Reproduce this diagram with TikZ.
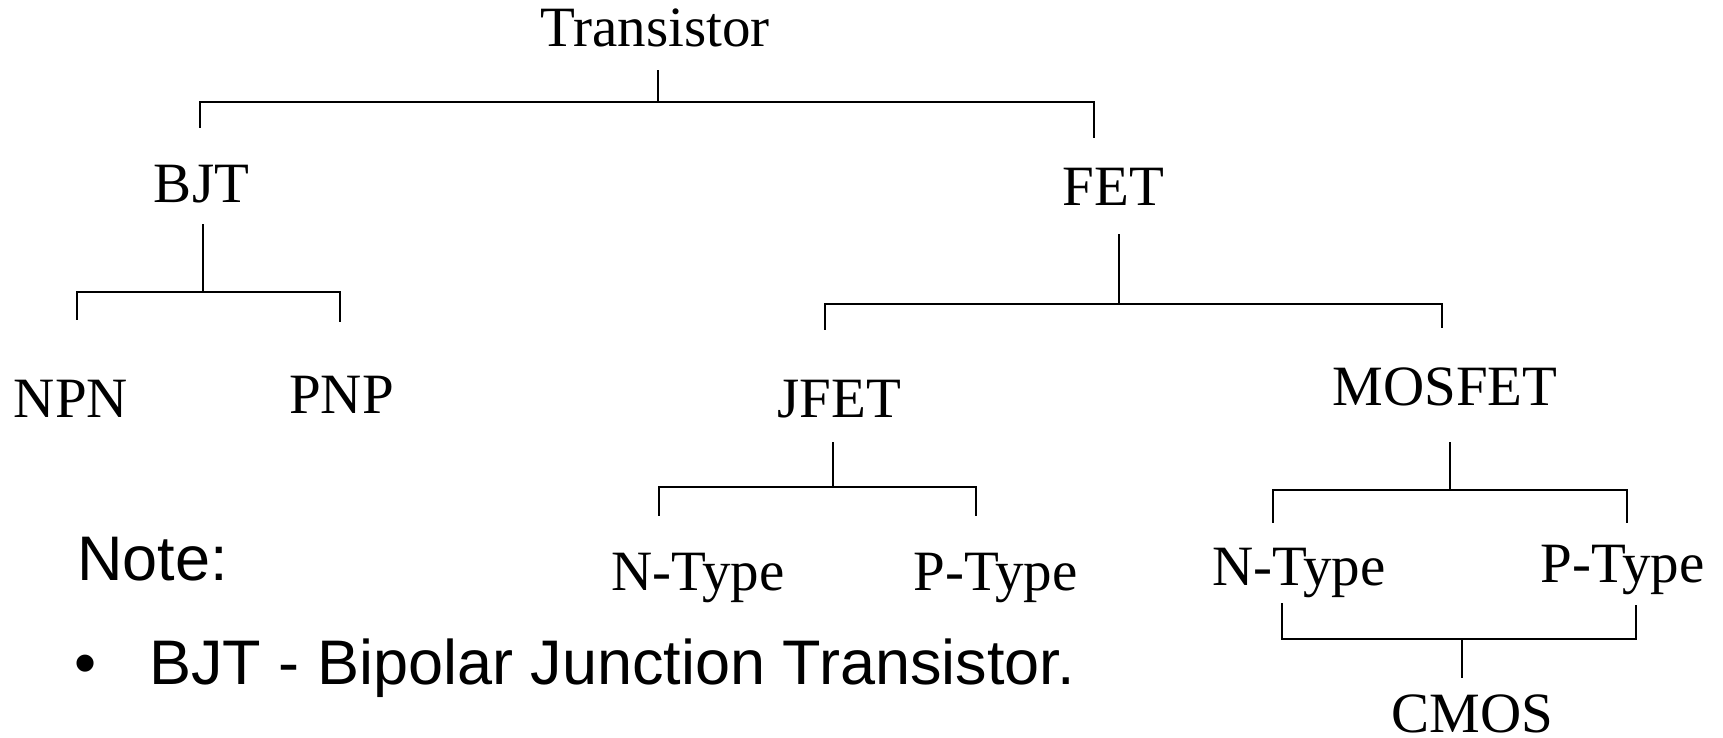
\documentclass[tikz,border=0pt]{standalone}
\usepackage{fontspec}
\setmainfont{Liberation Serif}
\newfontfamily\arialfont{Liberation Sans}
\begin{document}
\begin{tikzpicture}[x=1pt,y=-1pt,
  lbl/.style={inner sep=0pt, anchor=base, font=\fontsize{57}{60}\selectfont},
  note/.style={inner sep=0pt, anchor=base west, font=\arialfont\fontsize{63}{66}\selectfont},
  link/.style={line width=1.8pt, line cap=rect}]
\useasboundingbox (0,0) rectangle (1723,738);
\fill[white] (0,0) rectangle (1723,738);
% labels
\node[lbl] (tr) at (655,47) {Transistor};
\node[lbl] (bjt) at (201.5,202) {BJT};
\node[lbl] (fet) at (1113.5,206) {FET};
\node[lbl] (npn) at (71,417) {NPN};
\node[lbl] (pnp) at (341.5,413) {PNP};
\node[lbl] (jfet) at (839.5,417) {JFET};
\node[lbl] (mos) at (1445,405) {MOSFET};
\node[lbl] (jn) at (698,590) {N-Type};
\node[lbl] (jp) at (995.5,590) {P-Type};
\node[lbl] (mn) at (1299,585) {N-Type};
\node[lbl] (mp) at (1622.5,582) {P-Type};
\node[lbl] (cmos) at (1472.5,732) {CMOS};
\node[note] (nt) at (77,580) {Note:};
\node[note, anchor=base] (bul) at (86,684) {\textbullet};
\node[note] (bj) at (149,684) {BJT - Bipolar Junction Transistor.};
% connector coordinates
\coordinate (trS) at (658,71);
\coordinate (trJ) at (658,102);
\coordinate (bjtN) at (200,127);
\coordinate (fetN) at (1094,137);
\coordinate (bjtS) at (203,225);
\coordinate (bjtJ) at (203,292);
\coordinate (npnN) at (77,319);
\coordinate (pnpN) at (340,321);
\coordinate (fetS) at (1119,235);
\coordinate (fetJ) at (1119,304);
\coordinate (jfetN) at (825,329);
\coordinate (mosN) at (1442,327);
\coordinate (jfetS) at (833,443);
\coordinate (jfetJ) at (833,487);
\coordinate (jnN) at (659,515);
\coordinate (jpN) at (976,515);
\coordinate (mosS) at (1450,443);
\coordinate (mosJ) at (1450,490);
\coordinate (mnN) at (1273,522);
\coordinate (mpN) at (1627,522);
\coordinate (mnS) at (1282,604);
\coordinate (mpS) at (1636,606);
\coordinate (cmJ) at (1462,639);
\coordinate (cmN) at (1462,677);
% connectors
\draw[link] (trS) -- (trJ);
\draw[link] (bjtN) |- (trJ) -| (fetN);
\draw[link] (bjtS) -- (bjtJ);
\draw[link] (npnN) |- (bjtJ) -| (pnpN);
\draw[link] (fetS) -- (fetJ);
\draw[link] (jfetN) |- (fetJ) -| (mosN);
\draw[link] (jfetS) -- (jfetJ);
\draw[link] (jnN) |- (jfetJ) -| (jpN);
\draw[link] (mosS) -- (mosJ);
\draw[link] (mnN) |- (mosJ) -| (mpN);
\draw[link] (mnS) |- (cmJ) -| (mpS);
\draw[link] (cmJ) -- (cmN);
\end{tikzpicture}
\end{document}
